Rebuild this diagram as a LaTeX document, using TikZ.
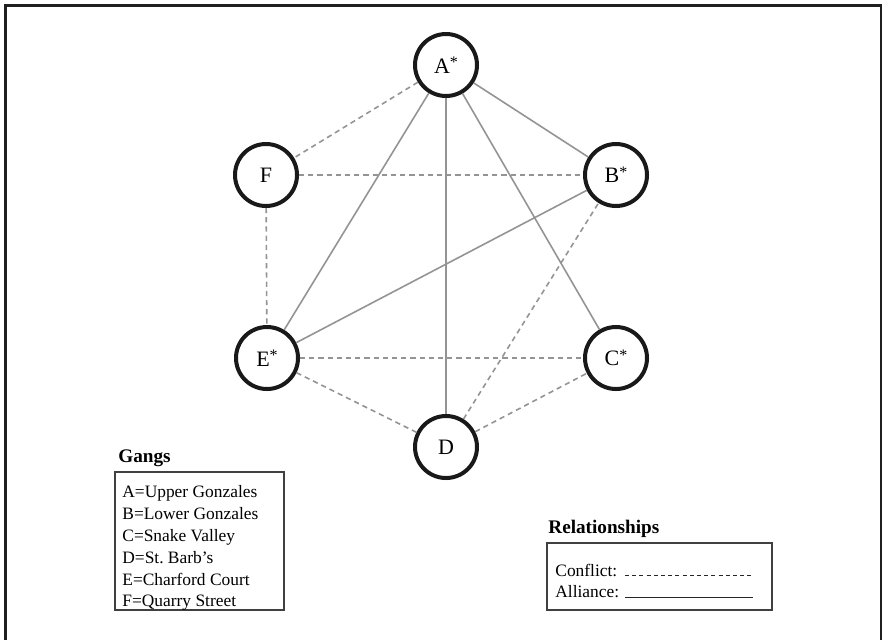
\documentclass[tikz,border=0pt]{standalone}
\usepackage{fontspec}
\setmainfont{Liberation Serif}
\newcommand{\gstar}{\raisebox{0.55ex}{\fontsize{8}{8}\selectfont *}}
\begin{document}
\begin{tikzpicture}[x=0.5pt,y=-0.5pt,
  gang/.style={circle,draw=black!90,line width=2pt,minimum size=31pt,inner sep=0pt,fill=white,font=\fontsize{11}{13}\selectfont},
  conflict/.style={draw=black!42,line width=0.8pt,dash pattern=on 2.6pt off 2pt},
  alliance/.style={draw=black!42,line width=0.8pt},
  legtext/.style={anchor=base west,inner sep=0pt,font=\fontsize{8.7}{10}\selectfont},
  head/.style={anchor=base west,inner sep=0pt,font=\fontsize{9.6}{11}\selectfont\bfseries},
  legbox/.style={draw=black!75,line width=0.7pt},
  legline/.style={draw=black!85,line width=0.5pt}]
\useasboundingbox (0,0) rectangle (882,639);
\draw[draw=black!88,line width=1.5pt] (5.5,5.5) rectangle (881.5,700);
% nodes
\node[gang] (A) at (446,65) {A\gstar};
\node[gang] (F) at (266,175) {F};
\node[gang] (B) at (616,175) {B\gstar};
\node[gang] (E) at (267,358) {E\gstar};
\node[gang] (C) at (616,358) {C\gstar};
\node[gang] (D) at (446,447) {D};
% edges
\draw[conflict] (A) -- (F);
\draw[conflict] (F) -- (B);
\draw[conflict] (F) -- (E);
\draw[conflict] (E) -- (C);
\draw[conflict] (E) -- (D);
\draw[conflict] (D) -- (C);
\draw[conflict] (D) -- (B);
\draw[alliance] (A) -- (E);
\draw[alliance] (A) -- (D);
\draw[alliance] (A) -- (C);
\draw[alliance] (A) -- (B);
\draw[alliance] (E) -- (B);
% Gangs legend
\node[head] (gh) at (118,462) {Gangs};
\draw[legbox] (115,472) rectangle (284,610);
\node[legtext] (g1) at (122,497) {A=Upper Gonzales};
\node[legtext] (g2) at (122,519) {B=Lower Gonzales};
\node[legtext] (g3) at (122,541) {C=Snake Valley};
\node[legtext] (g4) at (122,563) {D=St.\ Barb’s};
\node[legtext] (g5) at (122,585) {E=Charford Court};
\node[legtext] (g6) at (122,606) {F=Quarry Street};
% Relationships legend
\node[head] (rh) at (548,533) {Relationships};
\draw[legbox] (547,543) rectangle (772,610);
\node[legtext] (r1) at (555,576) {Conflict:};
\node[legtext] (r2) at (555,597) {Alliance:};
\coordinate (c1) at (625,575);
\coordinate (c2) at (753,575);
\coordinate (a1) at (625,597);
\coordinate (a2) at (753,597);
\draw[legline,dash pattern=on 2pt off 1.6pt] (c1) -- (c2);
\draw[legline] (a1) -- (a2);
\end{tikzpicture}
\end{document}
